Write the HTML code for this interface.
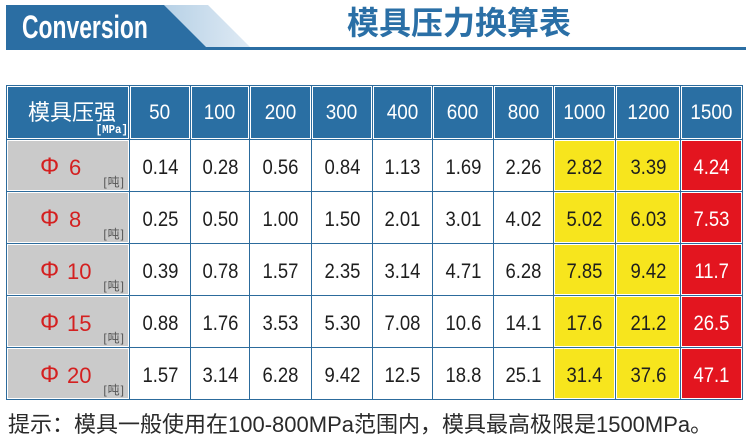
<!DOCTYPE html>
<html><head><meta charset="utf-8">
<style>
html,body{margin:0;padding:0;background:#fff;}
body{width:747px;height:442px;position:relative;overflow:hidden;font-family:"Liberation Sans","Noto Sans CJK SC",sans-serif;}
.line{position:absolute;left:6px;top:47px;width:740px;height:3px;background:#2b6ea3;}
.conv{position:absolute;left:22px;top:11px;font-size:32px;line-height:32px;font-weight:bold;color:#fff;transform:scaleX(0.715);transform-origin:0 0;white-space:nowrap;}
.title{position:absolute;left:347px;top:5px;font-size:32px;line-height:32px;font-weight:bold;color:#2a6fa6;font-family:"Noto Sans CJK SC","WenQuanYi Zen Hei",sans-serif;white-space:nowrap;letter-spacing:0px;}
.grid{position:absolute;left:6px;top:85px;width:737px;height:315px;box-sizing:border-box;border-right:1px solid #2c6b9c;border-bottom:1px solid #2c6b9c;display:grid;grid-template-columns:123px 61px 59px 62px 61px 60px 61px 60px 62px 65px 62px;grid-template-rows:54px 52px 52px 52px 52px 52px;}
.c{position:relative;box-sizing:border-box;border-left:1px solid #2c6b9c;border-top:1px solid #2c6b9c;}
.f{position:absolute;left:1px;top:1px;right:1px;bottom:1px;display:flex;align-items:center;justify-content:center;font-size:21px;line-height:21px;color:#1e1e1e;}
.d .f{padding-top:3px;box-sizing:border-box;}
.h .f{background:#2a6fa3;color:#fff;}
.y .f{background:#f7e51d;}
.r .f{background:#e3151f;color:#fff;}
.g .f{background:#cacaca;}
.n{display:inline-block;transform:scaleX(0.88);}
.hn{display:inline-block;transform:scaleX(0.9);}
.phi{position:absolute;left:32px;top:14px;font-size:24px;line-height:24px;color:#d42020;}
.num{position:absolute;top:16px;font-size:22px;line-height:22px;color:#d42020;}
.ton{position:absolute;right:3px;bottom:1px;font-size:12px;line-height:13px;color:#555;letter-spacing:1px;font-family:"Liberation Sans","Noto Sans CJK SC",sans-serif;}
.hl{position:absolute;left:20px;top:13px;font-size:22px;line-height:22px;color:#fff;font-family:"Noto Sans CJK SC",sans-serif;white-space:nowrap;}
.mpa{position:absolute;right:0px;bottom:1px;font-size:12px;line-height:13px;color:#fff;font-family:"Liberation Mono",monospace;font-weight:bold;transform:scaleX(0.9);transform-origin:100% 0;}
.foot{position:absolute;left:8px;top:413px;font-size:22px;line-height:24px;color:#2a2a2a;white-space:nowrap;}
</style></head><body>
<svg width="747" height="60" style="position:absolute;left:0;top:0">
<defs><linearGradient id="lg" x1="0" x2="1" y1="0" y2="0"><stop offset="0" stop-color="#b7d1e6"/><stop offset="1" stop-color="#dfeaf4"/></linearGradient></defs>
<polygon points="164,5 208,5 250,47 205,47" fill="url(#lg)"/>
<polygon points="6,5 164,5 206,47 6,47" fill="#2b6ea3"/>
</svg>
<div class="line"></div>
<div class="conv">Conversion</div>
<div class="title">模具压力换算表</div>

<div class="grid">
<div class="c h"><div class="f"><span class="hl">模具压强</span><span class="mpa">[MPa]</span></div></div>
<div class="c h"><div class="f"><span class="hn">50</span></div></div>
<div class="c h"><div class="f"><span class="hn">100</span></div></div>
<div class="c h"><div class="f"><span class="hn">200</span></div></div>
<div class="c h"><div class="f"><span class="hn">300</span></div></div>
<div class="c h"><div class="f"><span class="hn">400</span></div></div>
<div class="c h"><div class="f"><span class="hn">600</span></div></div>
<div class="c h"><div class="f"><span class="hn">800</span></div></div>
<div class="c h"><div class="f"><span class="hn">1000</span></div></div>
<div class="c h"><div class="f"><span class="hn">1200</span></div></div>
<div class="c h"><div class="f"><span class="hn">1500</span></div></div>

<div class="c g"><div class="f"><span class="phi">Φ</span><span class="num" style="left:61px">6</span><span class="ton">[吨]</span></div></div>
<div class="c d"><div class="f"><span class="n">0.14</span></div></div>
<div class="c d"><div class="f"><span class="n">0.28</span></div></div>
<div class="c d"><div class="f"><span class="n">0.56</span></div></div>
<div class="c d"><div class="f"><span class="n">0.84</span></div></div>
<div class="c d"><div class="f"><span class="n">1.13</span></div></div>
<div class="c d"><div class="f"><span class="n">1.69</span></div></div>
<div class="c d"><div class="f"><span class="n">2.26</span></div></div>
<div class="c d y"><div class="f"><span class="n">2.82</span></div></div>
<div class="c d y"><div class="f"><span class="n">3.39</span></div></div>
<div class="c d r"><div class="f"><span class="n">4.24</span></div></div>

<div class="c g"><div class="f"><span class="phi">Φ</span><span class="num" style="left:61px">8</span><span class="ton">[吨]</span></div></div>
<div class="c d"><div class="f"><span class="n">0.25</span></div></div>
<div class="c d"><div class="f"><span class="n">0.50</span></div></div>
<div class="c d"><div class="f"><span class="n">1.00</span></div></div>
<div class="c d"><div class="f"><span class="n">1.50</span></div></div>
<div class="c d"><div class="f"><span class="n">2.01</span></div></div>
<div class="c d"><div class="f"><span class="n">3.01</span></div></div>
<div class="c d"><div class="f"><span class="n">4.02</span></div></div>
<div class="c d y"><div class="f"><span class="n">5.02</span></div></div>
<div class="c d y"><div class="f"><span class="n">6.03</span></div></div>
<div class="c d r"><div class="f"><span class="n">7.53</span></div></div>

<div class="c g"><div class="f"><span class="phi">Φ</span><span class="num" style="left:59px">10</span><span class="ton">[吨]</span></div></div>
<div class="c d"><div class="f"><span class="n">0.39</span></div></div>
<div class="c d"><div class="f"><span class="n">0.78</span></div></div>
<div class="c d"><div class="f"><span class="n">1.57</span></div></div>
<div class="c d"><div class="f"><span class="n">2.35</span></div></div>
<div class="c d"><div class="f"><span class="n">3.14</span></div></div>
<div class="c d"><div class="f"><span class="n">4.71</span></div></div>
<div class="c d"><div class="f"><span class="n">6.28</span></div></div>
<div class="c d y"><div class="f"><span class="n">7.85</span></div></div>
<div class="c d y"><div class="f"><span class="n">9.42</span></div></div>
<div class="c d r"><div class="f"><span class="n">11.7</span></div></div>

<div class="c g"><div class="f"><span class="phi">Φ</span><span class="num" style="left:59px">15</span><span class="ton">[吨]</span></div></div>
<div class="c d"><div class="f"><span class="n">0.88</span></div></div>
<div class="c d"><div class="f"><span class="n">1.76</span></div></div>
<div class="c d"><div class="f"><span class="n">3.53</span></div></div>
<div class="c d"><div class="f"><span class="n">5.30</span></div></div>
<div class="c d"><div class="f"><span class="n">7.08</span></div></div>
<div class="c d"><div class="f"><span class="n">10.6</span></div></div>
<div class="c d"><div class="f"><span class="n">14.1</span></div></div>
<div class="c d y"><div class="f"><span class="n">17.6</span></div></div>
<div class="c d y"><div class="f"><span class="n">21.2</span></div></div>
<div class="c d r"><div class="f"><span class="n">26.5</span></div></div>

<div class="c g"><div class="f"><span class="phi">Φ</span><span class="num" style="left:59px">20</span><span class="ton">[吨]</span></div></div>
<div class="c d"><div class="f"><span class="n">1.57</span></div></div>
<div class="c d"><div class="f"><span class="n">3.14</span></div></div>
<div class="c d"><div class="f"><span class="n">6.28</span></div></div>
<div class="c d"><div class="f"><span class="n">9.42</span></div></div>
<div class="c d"><div class="f"><span class="n">12.5</span></div></div>
<div class="c d"><div class="f"><span class="n">18.8</span></div></div>
<div class="c d"><div class="f"><span class="n">25.1</span></div></div>
<div class="c d y"><div class="f"><span class="n">31.4</span></div></div>
<div class="c d y"><div class="f"><span class="n">37.6</span></div></div>
<div class="c d r"><div class="f"><span class="n">47.1</span></div></div>
</div>

<div class="foot">提示：模具一般使用在100-800MPa范围内，模具最高极限是1500MPa。</div>
</body></html>
